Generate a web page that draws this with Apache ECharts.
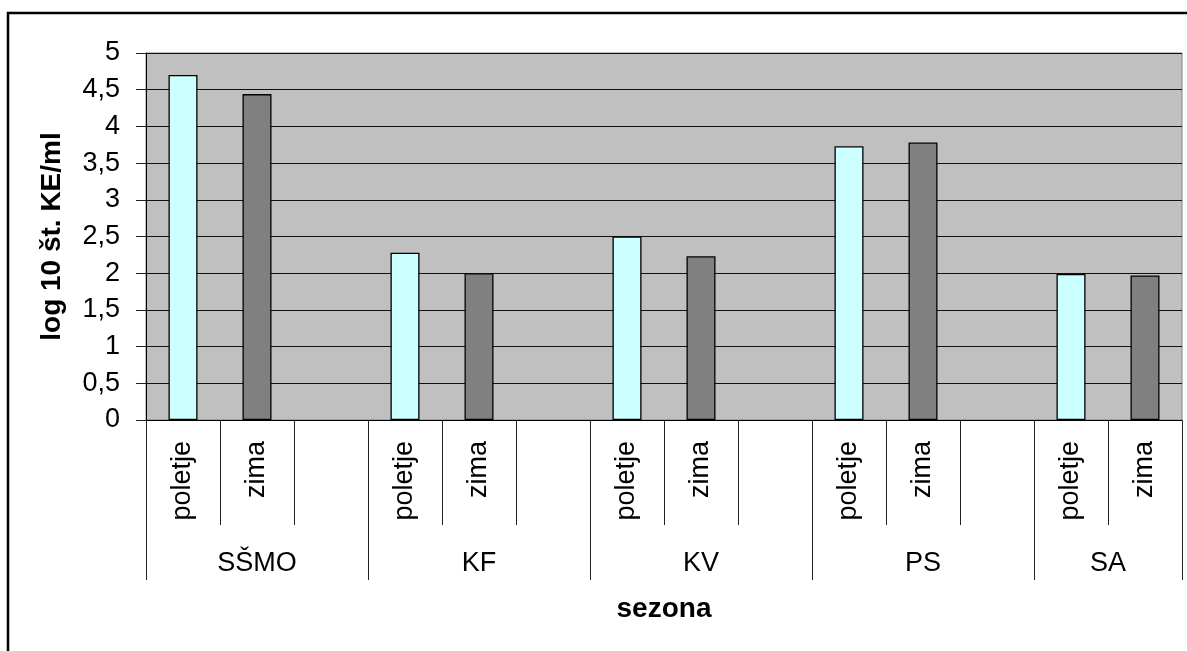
<!DOCTYPE html>
<html>
<head>
<meta charset="utf-8">
<style>
  html, body { margin: 0; padding: 0; background: #fff; }
  #chart { width: 1187px; height: 651px; }
</style>
<script src="https://cdn.jsdelivr.net/npm/echarts@6/dist/echarts.min.js"></script>
</head>
<body>
<div id="chart"></div>
<script>
// Sampling sites and seasons
const groups = ['SŠMO', 'KF', 'KV', 'PS', 'SA'];
const seasons = ['poletje', 'zima'];
// log10 of colony-forming units per ml
const poletje = [4.70, 2.28, 2.50, 3.73, 1.99];
const zima = [4.44, 2.00, 2.23, 3.78, 1.97];
const yTicks = [0, 0.5, 1, 1.5, 2, 2.5, 3, 3.5, 4, 4.5, 5];

// Build the slot layout: each site gets a poletje slot, a zima slot and a spacer (except the last)
const slotLabels = [];
const poletjeData = [];
const zimaData = [];
const groupStart = [];
groups.forEach((g, i) => {
  groupStart.push(slotLabels.length);
  slotLabels.push(seasons[0]); poletjeData.push(poletje[i]); zimaData.push('-');
  slotLabels.push(seasons[1]); poletjeData.push('-'); zimaData.push(zima[i]);
  if (i < groups.length - 1) {
    slotLabels.push(''); poletjeData.push('-'); zimaData.push('-');
  }
});
const nSlots = slotLabels.length;
// group boundaries and label centres on a 0..nSlots value scale
const groupBounds = groupStart.concat([nSlots]);
const groupCentres = groups.map((g, i) => (groupStart[i] + (i < groups.length - 1 ? groupStart[i] + 3 : nSlots)) / 2);

const font = "'Liberation Sans', Arial, sans-serif";
const chart = echarts.init(document.getElementById('chart'));
chart.setOption({
  animation: false,
  backgroundColor: '#fff',
  graphic: [{
    type: 'rect',
    shape: { x: 8, y: 13, width: 1200, height: 700 },
    style: { fill: 'none', stroke: '#000', lineWidth: 2.5 },
    silent: true
  }],
  grid: {
    left: 146, right: 5, top: 53, bottom: 231,
    show: true, backgroundColor: '#C0C0C0', borderColor: '#808080', borderWidth: 1
  },
  xAxis: [{
    type: 'category',
    data: slotLabels,
    boundaryGap: true,
    axisLine: { show: true, lineStyle: { color: '#000', width: 1 } },
    axisTick: { show: true, interval: 0, length: 105, lineStyle: { color: '#222', width: 1 } },
    axisLabel: {
      interval: 0, rotate: 90, margin: 21,
      color: '#000', fontFamily: font, fontSize: 27
    },
    splitLine: { show: false }
  }, {
    type: 'value',
    min: 0, max: nSlots,
    position: 'bottom',
    axisLine: { show: false },
    axisTick: { show: true, customValues: groupBounds, length: 160, lineStyle: { color: '#222', width: 1 } },
    axisLabel: {
      customValues: groupCentres,
      formatter: v => groups[groupCentres.findIndex(c => Math.abs(c - v) < 1e-6)] || '',
      margin: 130, color: '#000', fontFamily: font, fontSize: 27
    },
    splitLine: { show: false },
    name: 'sezona',
    nameLocation: 'middle',
    nameGap: 175,
    nameTextStyle: { color: '#000', fontFamily: font, fontSize: 28, fontWeight: 'bold' }
  }],
  yAxis: {
    type: 'value',
    min: yTicks[0], max: yTicks[yTicks.length - 1], interval: 0.5,
    axisLine: { show: true, lineStyle: { color: '#000', width: 1 } },
    axisTick: { show: true, length: 10, lineStyle: { color: '#222' } },
    axisLabel: {
      margin: 26, color: '#000', fontFamily: font, fontSize: 27,
      formatter: v => String(v).replace('.', ',')
    },
    splitLine: { show: true, lineStyle: { color: '#111', width: 1 } },
    name: 'log 10 št. KE/ml',
    nameLocation: 'middle',
    nameGap: 80,
    nameTextStyle: { color: '#000', fontFamily: font, fontSize: 28, fontWeight: 'bold' }
  },
  series: [{
    name: 'poletje',
    type: 'bar',
    data: poletjeData,
    barWidth: 29,
    barGap: '-100%',
    itemStyle: { color: '#CCFFFF', borderColor: '#000', borderWidth: 1.3 }
  }, {
    name: 'zima',
    type: 'bar',
    data: zimaData,
    barWidth: 29,
    barGap: '-100%',
    itemStyle: { color: '#808080', borderColor: '#000', borderWidth: 1.3 }
  }]
});
</script>
</body>
</html>
